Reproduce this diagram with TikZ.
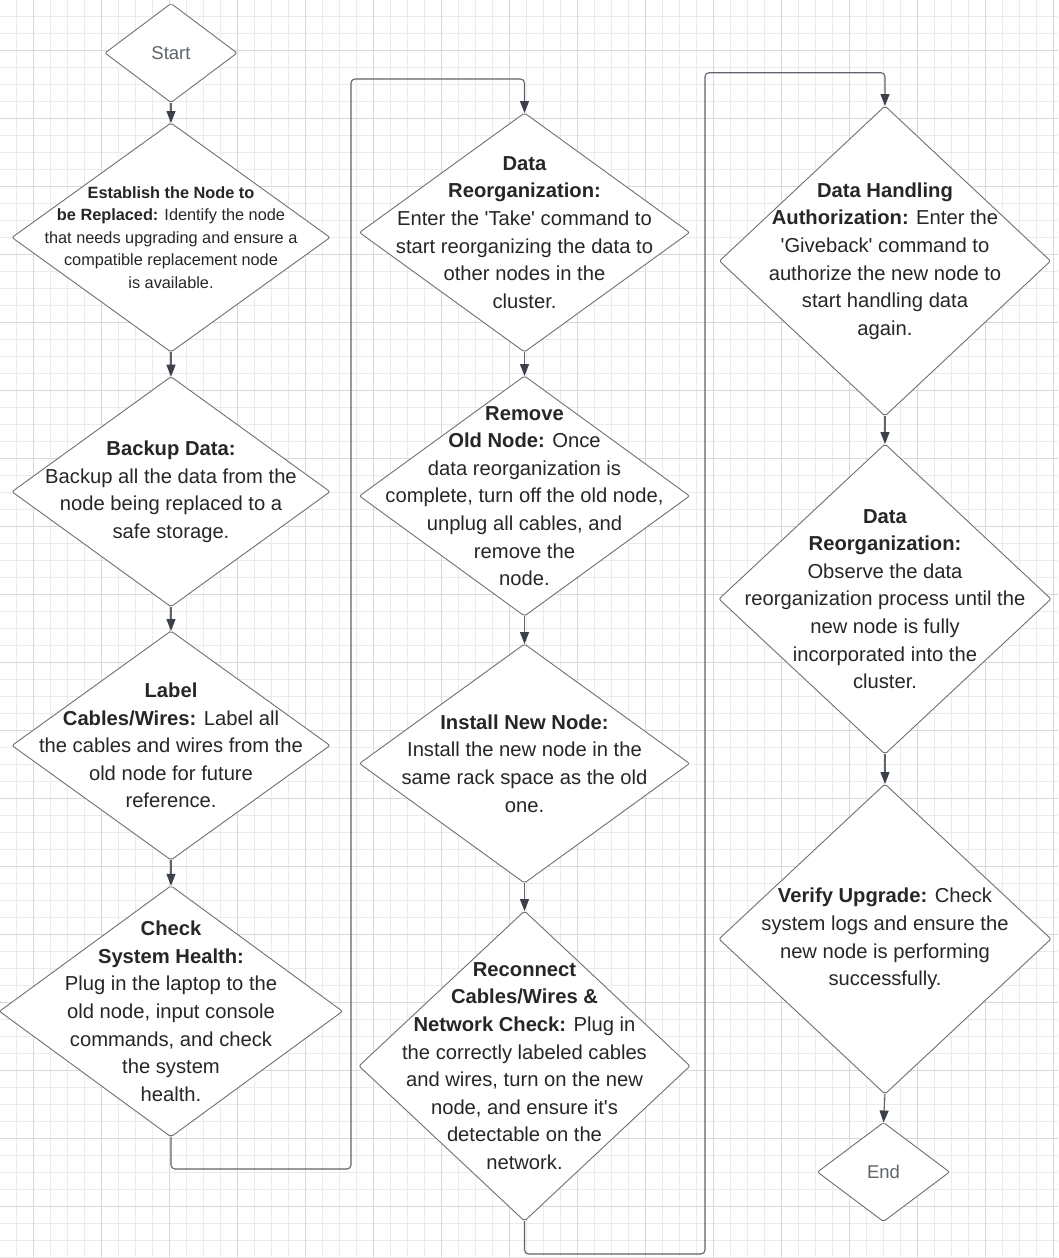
\documentclass[tikz,border=0pt]{standalone}
\usepackage{fontspec}
\newfontfamily\lib{Liberation Sans}
\usetikzlibrary{shapes.geometric,arrows.meta}
\definecolor{gmin}{HTML}{EBEBEB}
\definecolor{gmaj}{HTML}{D8D8D8}
\definecolor{edgec}{HTML}{6B7078}
\definecolor{conn}{HTML}{5F646C}
\definecolor{tipc}{HTML}{3C4149}
\definecolor{ink}{HTML}{262626}
\definecolor{termc}{HTML}{60656C}
\begin{document}
\begin{tikzpicture}[x=1pt,y=-1pt,
  dia/.style={shape=diamond, draw=edgec, line width=0.9pt, fill=white, inner sep=0pt, outer sep=0pt, rounded corners=2pt},
  txt/.style={align=center, inner sep=0pt, text=ink, font=\lib\fontsize{20.2}{27.6}\selectfont},
  smalltxt/.style={align=center, inner sep=0pt, text=ink, font=\lib\fontsize{16.3}{22.5}\selectfont},
  termtxt/.style={inner sep=0pt, text=termc, font=\lib\fontsize{18.5}{22}\selectfont},
  arr/.style={draw=conn, line width=1.1pt, -{Triangle[length=12pt,width=9pt,color=tipc]}},
  elbow/.style={arr, rounded corners=4pt}
]
\useasboundingbox (0,0) rectangle (1058,1258);
\fill[white] (0,0) rectangle (1058,1258);
% grid
\foreach \i in {0,...,61} {\draw[gmin, line width=0.8pt] ({16.7+17*\i},0) -- ++(0,1258);}
\foreach \j in {0,...,73} {\draw[gmin, line width=0.8pt] (0,{16+17*\j}) -- ++(1058,0);}
\foreach \i in {0,...,15} {\draw[gmaj, line width=0.9pt] ({33.7+68*\i},0) -- ++(0,1258);}
\foreach \j in {0,...,17} {\draw[gmaj, line width=0.9pt] (0,{50+68*\j}) -- ++(1058,0);}

% column 1
\node[dia, minimum width=132pt, minimum height=99pt] (start) at (171,53) {};
\node[termtxt] (start-t) at (start) {Start};
\node[dia, minimum width=318pt, minimum height=229pt] (est) at (171,237.5) {};
\node[smalltxt] (est-t) at (est) {\textbf{Establish the Node to}\\\textbf{be Replaced:} Identify the node\\that needs upgrading and ensure a\\compatible replacement node\\is available.};
\node[dia, minimum width=318pt, minimum height=230pt] (bak) at (171,491.7) {};
\node[txt] (bak-t) at (bak) {\textbf{Backup Data:}\\Backup all the data from the\\node being replaced to a\\safe storage.};
\node[dia, minimum width=318pt, minimum height=229pt] (lab) at (171,745.5) {};
\node[txt] (lab-t) at (lab) {\textbf{Label}\\\textbf{Cables/Wires:} Label all\\the cables and wires from the\\old node for future\\reference.};
\node[dia, minimum width=343pt, minimum height=251pt] (chk) at (171,1011.3) {};
\node[txt] (chk-t) at (chk) {\textbf{Check}\\\textbf{System Health:}\\Plug in the laptop to the\\old node, input console\\commands, and check\\the system\\health.};

% column 2
\node[dia, minimum width=330pt, minimum height=239pt] (dr1) at (524.5,232.5) {};
\node[txt] (dr1-t) at (dr1) {\textbf{Data}\\\textbf{Reorganization:}\\Enter the 'Take' command to\\start reorganizing the data to\\other nodes in the\\cluster.};
\node[dia, minimum width=330pt, minimum height=240pt] (rem) at (524.5,496) {};
\node[txt] (rem-t) at (rem) {\textbf{Remove}\\\textbf{Old Node:} Once\\data reorganization is\\complete, turn off the old node,\\unplug all cables, and\\remove the\\node.};
\node[dia, minimum width=330pt, minimum height=239pt] (ins) at (524.5,763.5) {};
\node[txt] (ins-t) at (ins) {\textbf{Install New Node:}\\Install the new node in the\\same rack space as the old\\one.};
\node[dia, minimum width=331pt, minimum height=310pt] (rec) at (524.5,1066) {};
\node[txt] (rec-t) at (rec) {\textbf{Reconnect}\\\textbf{Cables/Wires \&}\\\textbf{Network Check:} Plug in\\the correctly labeled cables\\and wires, turn on the new\\node, and ensure it's\\detectable on the\\network.};

% column 3
\node[dia, minimum width=331pt, minimum height=310pt] (dh) at (885,261) {};
\node[txt] (dh-t) at (dh) {\textbf{Data Handling}\\\textbf{Authorization:} Enter the\\'Giveback' command to\\authorize the new node to\\start handling data\\again.};
\node[dia, minimum width=332pt, minimum height=310pt] (dr2) at (885,599) {};
\node[txt] (dr2-t) at (dr2) {\textbf{Data}\\\textbf{Reorganization:}\\Observe the data\\reorganization process until the\\new node is fully\\incorporated into the\\cluster.};
\node[dia, minimum width=332pt, minimum height=310pt] (ver) at (885,939) {};
\node[txt] (ver-t) at (ver) {\textbf{Verify Upgrade:} Check\\system logs and ensure the\\new node is performing\\successfully.};
\node[dia, minimum width=132pt, minimum height=99pt] (end) at (883.5,1172) {};
\node[termtxt] (end-t) at (end) {End};

% connectors
\draw[arr] (start.south) -- (est.north);
\draw[arr] (est.south) -- (bak.north);
\draw[arr] (bak.south) -- (lab.north);
\draw[arr] (lab.south) -- (chk.north);
\draw[elbow] (chk.south) -- (171,1169) -- (351,1169) -- (351,79) -- (524.5,79) -- (dr1.north);
\draw[arr] (dr1.south) -- (rem.north);
\draw[arr] (rem.south) -- (ins.north);
\draw[arr] (ins.south) -- (rec.north);
\draw[elbow] (rec.south) -- (524.5,1254) -- (705,1254) -- (705,72.7) -- (885,72.7) -- (dh.north);
\draw[arr] (dh.south) -- (dr2.north);
\draw[arr] (dr2.south) -- (ver.north);
\draw[arr] (ver.south) -- (end.north);
\end{tikzpicture}
\end{document}
